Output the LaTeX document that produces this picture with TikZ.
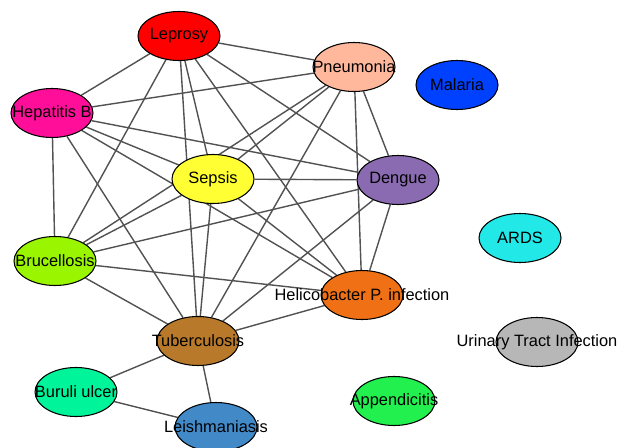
\documentclass[tikz,border=0pt]{standalone}
\usepackage{fontspec}
\setmainfont{Liberation Sans}
\usetikzlibrary{shapes.geometric,backgrounds}

\definecolor{leprc}{HTML}{FF0000}
\definecolor{pneuc}{HTML}{FFB89C}
\definecolor{malac}{HTML}{0040FF}
\definecolor{hepbc}{HTML}{FF0F99}
\definecolor{sepsc}{HTML}{FFFF33}
\definecolor{dengc}{HTML}{8A6BB1}
\definecolor{ardsc}{HTML}{22E8E8}
\definecolor{brucc}{HTML}{99F500}
\definecolor{helic}{HTML}{F07015}
\definecolor{tubec}{HTML}{B9792A}
\definecolor{urinc}{HTML}{B7B7B7}
\definecolor{buruc}{HTML}{00F59A}
\definecolor{leisc}{HTML}{4189C7}
\definecolor{appec}{HTML}{22F04F}

\tikzset{
  dis/.style={ellipse, draw=black, line width=0.9pt, minimum width=2.46cm,
    minimum height=1.47cm, inner sep=0pt, font=\fontsize{14}{16}\selectfont},
  link/.style={draw=black!68, line width=1.2pt}
}
\newcommand{\lbl}[1]{\makebox[0pt]{#1}}

\begin{document}
\begin{tikzpicture}[x=0.03cm, y=-0.03cm]
  \useasboundingbox (0,0) rectangle (618,447);

  \node[dis, fill=leprc] at (179,36) (lep) {\lbl{Leprosy}};
  \node[dis, fill=pneuc] at (354,67) (pne) {\lbl{Pneumonia}};
  \node[dis, fill=malac] at (457,85) (mal) {\lbl{Malaria}};
  \node[dis, fill=hepbc] at (52,113) (hep) {\lbl{Hepatitis B}};
  \node[dis, fill=sepsc] at (213,179) (sep) {\lbl{Sepsis}};
  \node[dis, fill=dengc] at (398,180) (den) {\lbl{Dengue}};
  \node[dis, fill=ardsc] at (520,238) (ards) {\lbl{ARDS}};
  \node[dis, fill=brucc] at (55,261) (bru) {\lbl{Brucellosis}};
  \node[dis, fill=helic] at (362,295) (hel) {\lbl{Helicobacter P. infection}};
  \node[dis, fill=tubec] at (198,341) (tub) {\lbl{Tuberculosis}};
  \node[dis, fill=urinc] at (537,342) (uti) {\lbl{Urinary Tract Infection}};
  \node[dis, fill=buruc] at (76,392) (bur) {\lbl{Buruli ulcer}};
  \node[dis, fill=leisc] at (216,427) (lei) {\lbl{Leishmaniasis}};
  \node[dis, fill=appec] at (394,401) (app) {\lbl{Appendicitis}};

  \begin{scope}[on background layer]
    \path[link] (lep) edge (pne) edge (hep) edge (sep) edge (den)
                      edge (bru) edge (hel) edge (tub);
    \path[link] (pne) edge (hep) edge (sep) edge (den) edge (bru)
                      edge (hel) edge (tub);
    \path[link] (hep) edge (sep) edge (den) edge (bru) edge (hel) edge (tub);
    \path[link] (sep) edge (den) edge (bru) edge (hel) edge (tub);
    \path[link] (den) edge (bru) edge (hel) edge (tub);
    \path[link] (bru) edge (hel) edge (tub);
    \path[link] (hel) edge (tub);
    \path[link] (tub) edge (bur) edge (lei);
    \path[link] (bur) edge (lei);
  \end{scope}
\end{tikzpicture}
\end{document}
